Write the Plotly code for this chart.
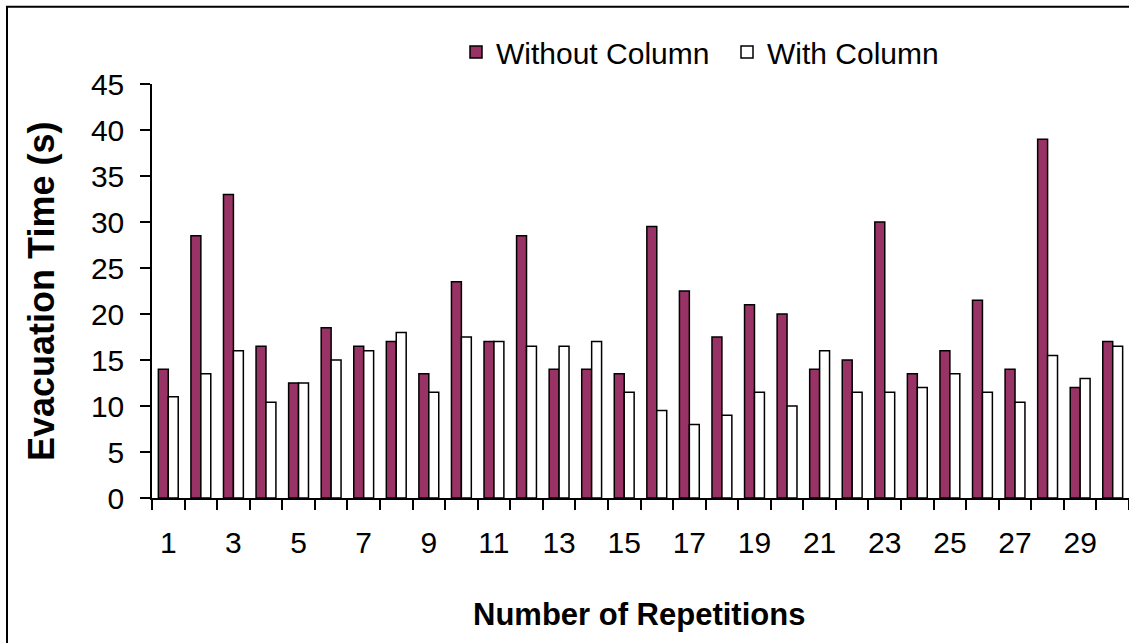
import plotly.graph_objects as go

repetitions = list(range(1, 31))
without_column = [14, 28.5, 33, 16.5, 12.5, 18.5, 16.5, 17, 13.5, 23.5,
                  17, 28.5, 14, 14, 13.5, 29.5, 22.5, 17.5, 21, 20,
                  14, 15, 30, 13.5, 16, 21.5, 14, 39, 12, 17]
with_column = [11, 13.5, 16, 10.4, 12.5, 15, 16, 18, 11.5, 17.5,
               17, 16.5, 16.5, 17, 11.5, 9.5, 8, 9, 11.5, 10,
               16, 11.5, 11.5, 12, 13.5, 11.5, 10.4, 15.5, 13, 16.5]
x_tick_labels = [str(i) for i in range(1, 31, 2)]

FONT = "Arial, Liberation Sans, sans-serif"

fig = go.Figure()
fig.add_trace(go.Bar(x=repetitions, y=without_column, name="Without Column",
                     marker=dict(color="#993366", line=dict(color="black", width=1.5))))
fig.add_trace(go.Bar(x=repetitions, y=with_column, name="With Column",
                     marker=dict(color="white", line=dict(color="black", width=1.5))))

W, H = 1129, 643
L, R, T, B = 152, 0, 84, 145
pw, ph = W - L - R, H - T - B


def px_x(x):
    return (x - L) / pw


def px_y(y):
    return (H - B - y) / ph


fig.update_layout(
    width=W, height=H,
    margin=dict(l=L, r=R, t=T, b=B, autoexpand=False),
    paper_bgcolor="white", plot_bgcolor="white",
    font=dict(family=FONT, size=30, color="black"),
    barmode="group", bargap=0.39, bargroupgap=0,
    showlegend=True,
    legend=dict(orientation="h", x=px_x(456), y=px_y(52),
                xanchor="left", yanchor="middle", font=dict(size=30),
                entrywidth=226, entrywidthmode="pixels",
                bgcolor="rgba(0,0,0,0)"),
    xaxis=dict(range=[0.5, 30.5], tickmode="array",
               tickvals=list(range(1, 31, 2)), ticktext=x_tick_labels,
               ticks="", showgrid=False, zeroline=False,
               showline=True, linecolor="black", linewidth=1.5,
               ticklabelstandoff=17,
               minor=dict(tickmode="linear", tick0=0.5, dtick=1,
                          ticks="outside", ticklen=10, tickwidth=1.5,
                          tickcolor="black", showgrid=False)),
    yaxis=dict(range=[0, 45], dtick=5, ticks="outside", ticklen=10,
               tickwidth=1.5, tickcolor="black", showgrid=False,
               zeroline=False, showline=True, linecolor="black",
               linewidth=1.5, ticklabelstandoff=10),
)

fig.add_annotation(text="<b>Evacuation Time (s)</b>", textangle=-90,
                   xref="paper", yref="paper", x=px_x(41), y=px_y(292),
                   xanchor="center", yanchor="middle",
                   showarrow=False, font=dict(size=36))
fig.add_annotation(text="<b>Number of Repetitions</b>",
                   xref="paper", yref="paper", x=px_x(639), y=px_y(614),
                   xanchor="center", yanchor="middle",
                   showarrow=False, font=dict(size=31))

fig.add_shape(type="rect", xref="paper", yref="paper",
              x0=px_x(7), x1=px_x(1160), y0=px_y(680), y1=px_y(6.7),
              line=dict(color="black", width=2), fillcolor="rgba(0,0,0,0)")

fig.write_html("out.html", config={"displayModeBar": False},
               post_script="document.body.style.margin='0';")
